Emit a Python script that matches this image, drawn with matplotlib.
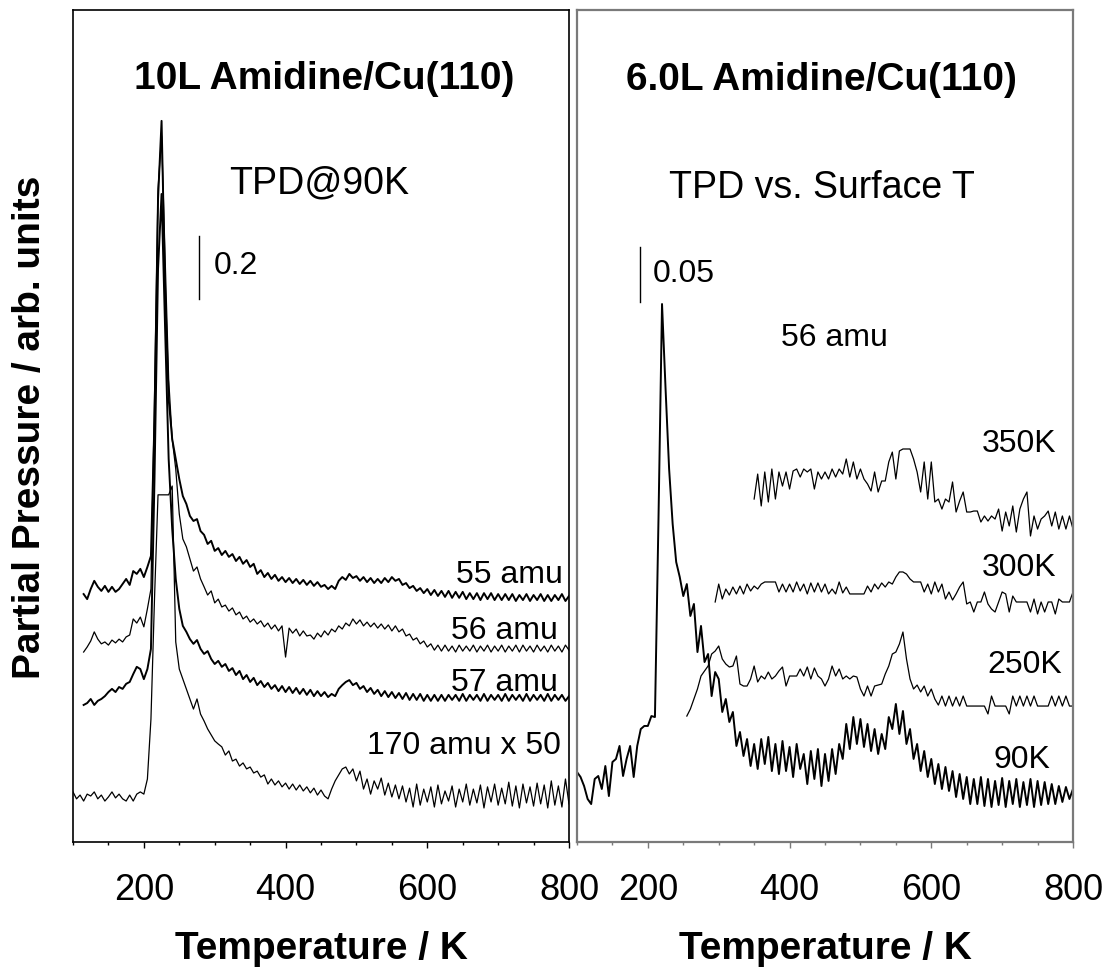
import numpy as np
import matplotlib
matplotlib.use("Agg")
import matplotlib.pyplot as plt
from matplotlib.ticker import MultipleLocator

plt.rcParams['font.family'] = ['Liberation Sans', 'DejaVu Sans']

# ---------------------------------------------------------------- temperature grids (K)
T_amu = np.arange(115, 801, 5)     # 55 / 56 / 57 amu
T_170 = np.arange(100, 801, 5)     # 170 amu x 50
T_90K = np.arange(100, 801, 5)
T_250K = np.arange(255, 801, 5)
T_300K = np.arange(295, 801, 5)
T_350K = np.arange(350, 801, 5)

# ---------------------------------------------------------------- 10 L exposure, TPD @ 90 K (stacked, arb. units)
sig_55 = [
    0.787, 0.771, 0.803, 0.829, 0.810, 0.797, 0.813, 0.794, 0.810, 0.794,
    0.803, 0.819, 0.835, 0.816, 0.860, 0.851, 0.867, 0.841, 0.873, 0.908,
    1.343, 2.041, 2.289, 1.756, 1.406, 1.279, 1.216, 1.152, 1.098, 1.073,
    1.035, 1.019, 1.025, 0.987, 0.975, 0.946, 0.956, 0.924, 0.933, 0.911,
    0.924, 0.905, 0.914, 0.892, 0.905, 0.883, 0.895, 0.873, 0.883, 0.851,
    0.863, 0.841, 0.854, 0.835, 0.848, 0.829, 0.841, 0.825, 0.838, 0.822,
    0.835, 0.819, 0.832, 0.816, 0.829, 0.813, 0.825, 0.810, 0.816, 0.803,
    0.813, 0.803, 0.829, 0.841, 0.832, 0.851, 0.838, 0.844, 0.829, 0.841,
    0.825, 0.838, 0.822, 0.835, 0.822, 0.838, 0.825, 0.841, 0.829, 0.835,
    0.816, 0.822, 0.806, 0.813, 0.797, 0.806, 0.790, 0.803, 0.784, 0.800,
    0.781, 0.797, 0.778, 0.797, 0.775, 0.794, 0.775, 0.794, 0.771, 0.790,
    0.771, 0.790, 0.768, 0.790, 0.771, 0.790, 0.768, 0.787, 0.768, 0.787,
    0.768, 0.787, 0.765, 0.784, 0.768, 0.787, 0.765, 0.784, 0.768, 0.787,
    0.765, 0.784, 0.765, 0.784, 0.768, 0.787, 0.765, 0.781,
]
sig_56 = [
    0.603, 0.619, 0.638, 0.667, 0.644, 0.629, 0.635, 0.625, 0.641, 0.632,
    0.644, 0.635, 0.651, 0.657, 0.708, 0.695, 0.714, 0.683, 0.740, 0.803,
    1.406, 2.073, 2.241, 1.851, 1.470, 1.279, 1.184, 1.041, 0.962, 0.937,
    0.898, 0.860, 0.873, 0.835, 0.810, 0.784, 0.797, 0.759, 0.771, 0.746,
    0.752, 0.733, 0.743, 0.721, 0.730, 0.708, 0.717, 0.698, 0.708, 0.692,
    0.702, 0.683, 0.695, 0.676, 0.689, 0.670, 0.686, 0.587, 0.679, 0.663,
    0.676, 0.654, 0.670, 0.654, 0.657, 0.644, 0.663, 0.651, 0.670, 0.657,
    0.676, 0.667, 0.686, 0.676, 0.695, 0.686, 0.708, 0.692, 0.705, 0.686,
    0.698, 0.683, 0.695, 0.679, 0.692, 0.676, 0.689, 0.670, 0.686, 0.667,
    0.676, 0.654, 0.660, 0.641, 0.648, 0.629, 0.638, 0.619, 0.629, 0.609,
    0.625, 0.606, 0.625, 0.606, 0.622, 0.603, 0.625, 0.606, 0.622, 0.606,
    0.625, 0.603, 0.622, 0.606, 0.625, 0.603, 0.622, 0.606, 0.625, 0.603,
    0.622, 0.606, 0.625, 0.603, 0.625, 0.606, 0.622, 0.603, 0.625, 0.606,
    0.622, 0.603, 0.625, 0.606, 0.622, 0.603, 0.625, 0.609,
]
sig_57 = [
    0.435, 0.441, 0.454, 0.435, 0.448, 0.454, 0.463, 0.476, 0.486, 0.476,
    0.492, 0.486, 0.502, 0.508, 0.533, 0.556, 0.549, 0.517, 0.549, 0.613,
    1.152, 1.819, 2.057, 1.629, 1.216, 0.994, 0.835, 0.740, 0.686, 0.667,
    0.644, 0.629, 0.641, 0.613, 0.597, 0.606, 0.581, 0.565, 0.575, 0.556,
    0.565, 0.543, 0.552, 0.530, 0.543, 0.517, 0.530, 0.508, 0.521, 0.498,
    0.511, 0.492, 0.505, 0.486, 0.498, 0.479, 0.495, 0.476, 0.492, 0.473,
    0.489, 0.470, 0.486, 0.467, 0.483, 0.463, 0.479, 0.463, 0.476, 0.460,
    0.470, 0.463, 0.486, 0.498, 0.508, 0.514, 0.498, 0.505, 0.486, 0.495,
    0.476, 0.489, 0.470, 0.483, 0.463, 0.479, 0.460, 0.476, 0.457, 0.473,
    0.454, 0.473, 0.451, 0.470, 0.451, 0.470, 0.448, 0.467, 0.448, 0.467,
    0.448, 0.467, 0.448, 0.467, 0.451, 0.467, 0.448, 0.470, 0.448, 0.467,
    0.451, 0.467, 0.448, 0.470, 0.448, 0.467, 0.451, 0.467, 0.448, 0.470,
    0.448, 0.467, 0.451, 0.467, 0.448, 0.470, 0.448, 0.467, 0.451, 0.467,
    0.448, 0.470, 0.448, 0.467, 0.451, 0.467, 0.448, 0.463,
]
sig_170 = [
    0.159, 0.137, 0.149, 0.130, 0.152, 0.146, 0.159, 0.137, 0.149, 0.130,
    0.143, 0.159, 0.140, 0.152, 0.137, 0.130, 0.149, 0.130, 0.152, 0.159,
    0.152, 0.200, 0.390, 0.771, 1.102, 1.102, 1.102, 1.102, 1.130, 0.635,
    0.549, 0.517, 0.486, 0.454, 0.422, 0.454, 0.406, 0.384, 0.359, 0.340,
    0.321, 0.311, 0.302, 0.276, 0.289, 0.257, 0.263, 0.241, 0.251, 0.232,
    0.238, 0.219, 0.225, 0.206, 0.213, 0.184, 0.200, 0.181, 0.194, 0.175,
    0.187, 0.168, 0.184, 0.165, 0.181, 0.162, 0.175, 0.156, 0.171, 0.149,
    0.165, 0.146, 0.137, 0.168, 0.194, 0.213, 0.232, 0.238, 0.216, 0.232,
    0.194, 0.225, 0.168, 0.200, 0.152, 0.194, 0.168, 0.203, 0.149, 0.187,
    0.143, 0.181, 0.137, 0.178, 0.127, 0.171, 0.111, 0.184, 0.117, 0.168,
    0.127, 0.175, 0.111, 0.181, 0.121, 0.162, 0.130, 0.178, 0.111, 0.168,
    0.127, 0.184, 0.117, 0.168, 0.124, 0.181, 0.108, 0.175, 0.127, 0.184,
    0.117, 0.171, 0.121, 0.190, 0.114, 0.178, 0.108, 0.184, 0.124, 0.175,
    0.114, 0.187, 0.121, 0.181, 0.108, 0.194, 0.117, 0.178, 0.111, 0.200,
    0.121,
]

# ---------------------------------------------------------------- 6.0 L exposure, 56 amu vs. surface T (stacked)
sig_90K = [
    0.0636, 0.0591, 0.0509, 0.0391, 0.0345, 0.0573, 0.0600, 0.0482, 0.0691, 0.0418,
    0.0727, 0.0755, 0.0873, 0.0600, 0.0755, 0.0873, 0.0591, 0.0873, 0.1027, 0.1055,
    0.1055, 0.1145, 0.1136, 0.2936, 0.4891, 0.4118, 0.3391, 0.2891, 0.2545, 0.2409,
    0.2236, 0.2345, 0.2055, 0.2164, 0.1727, 0.1964, 0.1636, 0.1709, 0.1327, 0.1545,
    0.1482, 0.1182, 0.1300, 0.1091, 0.1182, 0.0873, 0.1000, 0.0782, 0.0936, 0.0691,
    0.0891, 0.0664, 0.0936, 0.0709, 0.0955, 0.0645, 0.0891, 0.0618, 0.0918, 0.0645,
    0.0864, 0.0591, 0.0891, 0.0664, 0.0800, 0.0527, 0.0827, 0.0573, 0.0845, 0.0509,
    0.0800, 0.0555, 0.0845, 0.0618, 0.0891, 0.0755, 0.1073, 0.0845, 0.1136, 0.0891,
    0.1118, 0.0864, 0.1073, 0.0827, 0.1027, 0.0800, 0.0982, 0.0845, 0.1136, 0.1027,
    0.1255, 0.0982, 0.1191, 0.0891, 0.1027, 0.0755, 0.0891, 0.0645, 0.0827, 0.0591,
    0.0755, 0.0527, 0.0709, 0.0482, 0.0682, 0.0464, 0.0645, 0.0409, 0.0618, 0.0391,
    0.0591, 0.0345, 0.0573, 0.0345, 0.0591, 0.0327, 0.0573, 0.0318, 0.0555, 0.0336,
    0.0582, 0.0318, 0.0555, 0.0345, 0.0573, 0.0318, 0.0545, 0.0336, 0.0573, 0.0318,
    0.0555, 0.0336, 0.0545, 0.0345, 0.0527, 0.0345, 0.0509, 0.0364, 0.0500, 0.0391,
    0.0482,
]
sig_250K = [
    0.1145, 0.1209, 0.1300, 0.1391, 0.1509, 0.1555, 0.1600, 0.1709, 0.1736, 0.1782,
    0.1664, 0.1618, 0.1591, 0.1600, 0.1691, 0.1436, 0.1418, 0.1418, 0.1482, 0.1600,
    0.1455, 0.1509, 0.1482, 0.1545, 0.1482, 0.1509, 0.1555, 0.1591, 0.1418, 0.1509,
    0.1509, 0.1509, 0.1573, 0.1509, 0.1591, 0.1482, 0.1582, 0.1509, 0.1482, 0.1418,
    0.1482, 0.1600, 0.1509, 0.1573, 0.1482, 0.1509, 0.1482, 0.1509, 0.1500, 0.1391,
    0.1327, 0.1418, 0.1327, 0.1418, 0.1427, 0.1436, 0.1527, 0.1600, 0.1709, 0.1727,
    0.1800, 0.1909, 0.1664, 0.1482, 0.1391, 0.1427, 0.1364, 0.1418, 0.1327, 0.1391,
    0.1300, 0.1245, 0.1327, 0.1236, 0.1327, 0.1236, 0.1318, 0.1236, 0.1327, 0.1236,
    0.1236, 0.1236, 0.1236, 0.1236, 0.1236, 0.1164, 0.1327, 0.1236, 0.1236, 0.1236,
    0.1236, 0.1164, 0.1327, 0.1236, 0.1327, 0.1236, 0.1327, 0.1236, 0.1327, 0.1236,
    0.1236, 0.1236, 0.1236, 0.1327, 0.1236, 0.1327, 0.1236, 0.1327, 0.1236, 0.1236,
]
sig_300K = [
    0.2182, 0.2345, 0.2209, 0.2300, 0.2245, 0.2318, 0.2255, 0.2327, 0.2255, 0.2345,
    0.2282, 0.2327, 0.2300, 0.2345, 0.2364, 0.2364, 0.2364, 0.2364, 0.2273, 0.2345,
    0.2273, 0.2345, 0.2273, 0.2364, 0.2282, 0.2345, 0.2255, 0.2355, 0.2273, 0.2355,
    0.2273, 0.2345, 0.2255, 0.2300, 0.2255, 0.2364, 0.2264, 0.2318, 0.2255, 0.2255,
    0.2255, 0.2255, 0.2255, 0.2327, 0.2273, 0.2345, 0.2300, 0.2355, 0.2318, 0.2364,
    0.2345, 0.2409, 0.2455, 0.2455, 0.2436, 0.2391, 0.2364, 0.2364, 0.2364, 0.2273,
    0.2345, 0.2255, 0.2364, 0.2273, 0.2345, 0.2209, 0.2273, 0.2200, 0.2255, 0.2318,
    0.2364, 0.2164, 0.2182, 0.2091, 0.2182, 0.2182, 0.2273, 0.2164, 0.2118, 0.2091,
    0.2182, 0.2273, 0.2255, 0.2091, 0.2236, 0.2182, 0.2182, 0.2182, 0.2182, 0.2091,
    0.2209, 0.2073, 0.2182, 0.2091, 0.2182, 0.2182, 0.2073, 0.2209, 0.2182, 0.2182,
    0.2182, 0.2273,
]
sig_350K = [
    0.3118, 0.3345, 0.3055, 0.3364, 0.3091, 0.3391, 0.3118, 0.3364, 0.3236, 0.3364,
    0.3209, 0.3373, 0.3391, 0.3318, 0.3391, 0.3364, 0.3391, 0.3209, 0.3364, 0.3300,
    0.3364, 0.3300, 0.3391, 0.3318, 0.3391, 0.3345, 0.3482, 0.3318, 0.3455, 0.3300,
    0.3391, 0.3300, 0.3255, 0.3191, 0.3364, 0.3182, 0.3282, 0.3282, 0.3455, 0.3545,
    0.3300, 0.3555, 0.3573, 0.3573, 0.3573, 0.3482, 0.3364, 0.3182, 0.3455, 0.3118,
    0.3455, 0.3091, 0.3118, 0.3027, 0.3118, 0.3091, 0.3273, 0.3000, 0.3100, 0.3182,
    0.3000, 0.3000, 0.3009, 0.3009, 0.2909, 0.2964, 0.2918, 0.2964, 0.2936, 0.3027,
    0.2827, 0.3000, 0.2873, 0.3055, 0.2818, 0.3027, 0.3118, 0.3182, 0.2782, 0.2964,
    0.2845, 0.2936, 0.2964, 0.3009, 0.2873, 0.3000, 0.2845, 0.2964, 0.2845, 0.2964,
    0.2845,
]

# scale bars: (temperature, lower end, length)
bar_left = (278, 1.724, 0.2)
bar_right = (189, 0.491, 0.05)

left_ylim = (0, 2.641)
right_ylim = (0, 0.7564)

# ---------------------------------------------------------------- figure
W, H = 1108, 970
fig = plt.figure(figsize=(W / 100, H / 100), dpi=100)
axL = fig.add_axes([73 / W, 127 / H, 496 / W, 832 / H])
axR = fig.add_axes([577 / W, 127 / H, 496 / W, 832 / H])

axL.plot(T_amu, sig_55, color='black', lw=1.4)
axL.plot(T_amu, sig_56, color='black', lw=0.9)
axL.plot(T_amu, sig_57, color='black', lw=1.4)
axL.plot(T_170, sig_170, color='black', lw=0.9)

axR.plot(T_90K, sig_90K, color='black', lw=1.4)
axR.plot(T_250K, sig_250K, color='black', lw=0.9)
axR.plot(T_300K, sig_300K, color='black', lw=0.9)
axR.plot(T_350K, sig_350K, color='black', lw=0.9)

for ax, (bx, b0, blen) in ((axL, bar_left), (axR, bar_right)):
    ax.plot([bx, bx], [b0, b0 + blen], color='black', lw=1.0)

axL.set_ylim(*left_ylim)
axR.set_ylim(*right_ylim)

for ax, col, lw in ((axL, 'black', 1.2), (axR, '#7a7a7a', 1.6)):
    ax.set_xlim(100, 800)
    ax.set_yticks([])
    ax.xaxis.set_major_locator(MultipleLocator(200))
    ax.xaxis.set_minor_locator(MultipleLocator(50))
    ax.tick_params(axis='x', which='major', direction='out', length=4.3, width=1.0,
                   color=col, labelsize=26, pad=17)
    ax.tick_params(axis='x', which='minor', direction='out', length=2.4, width=1.0, color=col)
    for sp in ax.spines.values():
        sp.set_color(col)
        sp.set_linewidth(lw)
    ax.set_xlabel('Temperature / K', fontsize=28, fontweight='bold', va='baseline')
    ax.xaxis.set_label_coords(0.5, -0.1394)

axL.set_ylabel('Partial Pressure / arb. units', fontsize=28, fontweight='bold', va='center')
axL.yaxis.set_label_coords(-0.0867, 0.5)

# ---------------------------------------------------------------- annotations, left panel
axL.text(454, 2.394, '10L Amidine/Cu(110)', fontsize=28, fontweight='bold',
         ha='center', va='baseline')
axL.text(447, 2.063, 'TPD@90K', fontsize=27, ha='center', va='baseline')
axL.text(bar_left[0] + 20, 1.806, '0.2', fontsize=23, ha='left', va='baseline')
axL.text(791, 0.825, '55 amu', fontsize=23, ha='right', va='baseline')
axL.text(785, 0.648, '56 amu', fontsize=23, ha='right', va='baseline')
axL.text(785, 0.483, '57 amu', fontsize=23, ha='right', va='baseline')
axL.text(788, 0.283, '170 amu x 50', fontsize=23, ha='right', va='baseline')

# ---------------------------------------------------------------- annotations, right panel
axR.text(445, 0.6845, '6.0L Amidine/Cu(110)', fontsize=28, fontweight='bold',
         ha='center', va='baseline')
axR.text(446, 0.5864, 'TPD vs. Surface T', fontsize=27, ha='center', va='baseline')
axR.text(bar_right[0] + 18, 0.510, '0.05', fontsize=23, ha='left', va='baseline')
axR.text(464, 0.4518, '56 amu', fontsize=23, ha='center', va='baseline')
axR.text(776, 0.3555, '350K', fontsize=23, ha='right', va='baseline')
axR.text(776, 0.2427, '300K', fontsize=23, ha='right', va='baseline')
axR.text(785, 0.1545, '250K', fontsize=23, ha='right', va='baseline')
axR.text(768, 0.0682, '90K', fontsize=23, ha='right', va='baseline')

fig.savefig('out.png', dpi=100)
